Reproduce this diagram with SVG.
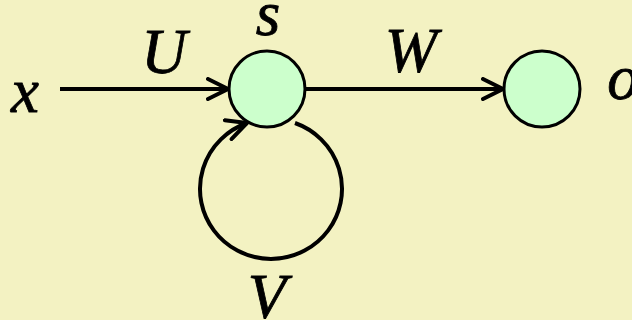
<svg xmlns="http://www.w3.org/2000/svg" width="632" height="320" viewBox="0 0 632 320">
<defs>
<style>
.lbl{font-family:"Liberation Serif","Times New Roman",serif;font-style:italic;font-size:63px;fill:#000;stroke:#000;stroke-width:0.8;text-anchor:middle}
.node{fill:#ccffcc;stroke:#000;stroke-width:3}
.edge{fill:none;stroke:#000;stroke-width:4}
</style>
<marker id="arr" viewBox="0 0 24 24" refX="22" refY="12" markerWidth="24" markerHeight="24" markerUnits="userSpaceOnUse" orient="auto">
<path d="M2 2 L22 12 L2 22" fill="none" stroke="#000" stroke-width="4" stroke-linecap="round" stroke-linejoin="miter"/>
</marker>
</defs>
<rect width="632" height="320" fill="#f3f2c2"/>
<g id="connectors">
<line class="edge" x1="60" y1="89" x2="228" y2="89" marker-end="url(#arr)"/>
<line class="edge" x1="305" y1="89" x2="503" y2="89" marker-end="url(#arr)"/>
<path class="edge" d="M295 123 A71 70 0 1 1 247 123" marker-end="url(#arr)"/>
</g>
<g id="node-s">
<circle class="node" cx="267" cy="89" r="38"/>
<text class="lbl" x="268" y="35">s</text>
</g>
<g id="node-o">
<circle class="node" cx="542" cy="89" r="38"/>
<text class="lbl" x="623" y="99">o</text>
</g>
<g id="node-x">
<text class="lbl" x="25" y="112">x</text>
</g>
<g id="labels">
<text class="lbl" x="164" y="73">U</text>
<text class="lbl" x="411" y="72">W</text>
<text class="lbl" x="267" y="318">V</text>
</g>
</svg>
